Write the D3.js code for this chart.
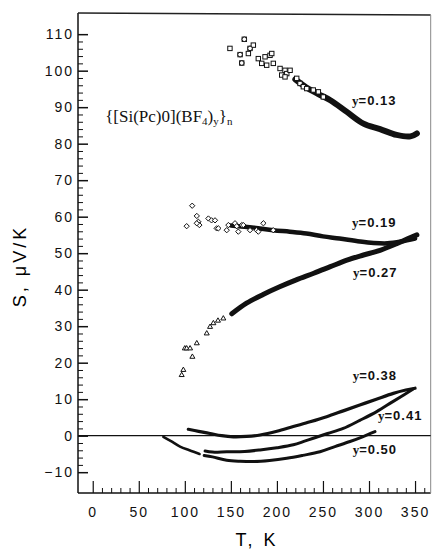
<!DOCTYPE html>
<html>
<head>
<meta charset="utf-8">
<script src="https://cdn.jsdelivr.net/npm/d3@7"></script>
<style>
  body { margin: 0; background: #fff; }
  svg { display: block; }
  .tick line { stroke: #111; }
  .tick text { font-family: "Liberation Sans", Arial, sans-serif; font-size: 14px; letter-spacing: 2px; fill: #111; }
</style>
</head>
<body>
<svg width="433" height="552"></svg>
<script>
// ---- data (T in K, S in uV/K) ----

// y=0.13 : open squares / circles at low T
var y13Open = [[149,106.1],[164.6,108.6],[160,104.4],[161.8,102.1],[169,104.7],[170.8,106.1],
  [174.4,107],[179.8,103.3],[183.5,102],[188.9,101.5],[187.1,103.8],[192.5,104.2],[194.4,104.7],
  [196.1,102],[203.4,100.6],[208.8,100.1],[205.2,98.8],[210.7,99.2],[214.3,100.1],[208.8,98.3],
  [221.5,97.9],[225.1,96.5],[228.7,95.6],[232.4,95.1],[239.5,94.7],[245,94.2],[250.4,92.8]];
var y13Circles = [[164.6,108.6],[160,104.4],[161.8,102.1],[170.8,106.1]];
// y=0.13 : dense part (overlapping points)
var y13Dense = [[220,97.6],[232,95.4],[245,93.6],[258,91.9],[276,88.7],[294,85.5],[312,84],
  [330,82.4],[345,82],[352,82.8]];

// y=0.19 : open diamonds
var y19Open = [[108,63],[102,57.4],[113,60.2],[114.7,58.6],[115.8,57.7],[113,58.2],[125.6,59.5],
  [129,59],[132.8,59],[134.6,56.8],[136.4,56.8],[145.5,56.3],[147.3,57.7],[154.5,58.2],[156.4,57.4],
  [158.1,55.9],[161.8,57.7],[163.5,57.7],[170.8,56.3],[178,56.3],[179.8,55.9],[185.3,58.2],[196,56.3]];
var y19Dense = [[150,57.6],[175,57],[196,56.3],[214,55.9],[232,55.4],[250,54.6],[268,54],
  [290,53.2],[305,52.8],[320,52.7],[335,53.2],[350,54]];

// y=0.27 : open triangles
var y27Open = [[96.6,16.6],[98.4,18],[100,23.9],[102,23.9],[105.7,23.9],[108.2,21.6],[113,25.3],
  [123.8,28],[127.4,29.8],[131,30.8],[136,31.5],[141.8,32.1]];
var y27Dense = [[151,33.4],[167,36.3],[185,38.7],[203,40.8],[221,42.7],[240,44.5],[258,46.3],
  [276,48.1],[294,49.5],[312,50.8],[330,52.6],[345,54.3],[352,55]];

// y=0.38, 0.41, 0.50 : dense lines
var y38Line = [[103.8,1.75],[115,1.2],[127.4,0.6],[140,0],[152.7,-0.3],[167,-0.2],[181.7,0.2],
  [200,1.2],[217.8,2.5],[236,3.8],[254,5.2],[272,6.8],[290,8.4],[308,10],[326.4,11.6],[340,12.5],[350,13]];
var y41Line = [[122,-4.2],[130,-4.5],[145.5,-4.4],[165,-4.3],[181.7,-3.9],[200,-3.3],[217.8,-2.5],
  [230,-1.5],[239.5,-0.7],[255,0.6],[272,2],[290,4.2],[308.4,6.6],[325,9.2],[337.3,11.1],[348,12.8]];
var y50LineA = [[76.7,-0.3],[85,-1.5],[94.8,-3],[105,-4],[116,-5]];
var y50LineB = [[121,-5.4],[130,-5.8],[145.5,-6.7],[160,-7],[174.4,-7.1],[192,-6.8],[210.7,-6.2],
  [228,-5.4],[246.8,-4.4],[263,-3],[279.4,-1.6],[293,-0.3],[306.5,1.1]];

// labels
var seriesNames = ["0.13", "0.19", "0.27", "0.38", "0.41", "0.50"];
var seriesLabelAt = [[281.6,90.6],[281.6,57.2],[282.7,43.5],[282.3,15.3],[309.8,4.3],[282.3,-5.0]];
var xMajor = [0, 50, 100, 150, 200, 250, 300, 350];
var yMajor = [-10, 0, 10, 20, 30, 40, 50, 60, 70, 80, 90, 100, 110];

// ---- layout ----
var svg = d3.select("svg");
var x = d3.scaleLinear().domain([-16, 367]).range([78, 430.7]);
var y = d3.scaleLinear().domain([-15.7, 115.8]).range([493, 13]);

// frame
svg.append("line").attr("x1", 78).attr("y1", 13).attr("x2", 78).attr("y2", 493)
   .attr("stroke", "#111").attr("stroke-width", 1.5);
svg.append("line").attr("x1", 78).attr("y1", 493).attr("x2", 430.7).attr("y2", 493)
   .attr("stroke", "#111").attr("stroke-width", 1.5);
svg.append("line").attr("x1", 78).attr("y1", 13).attr("x2", 430.7).attr("y2", 15)
   .attr("stroke", "#222").attr("stroke-width", 1.3);
svg.append("line").attr("x1", 430.7).attr("y1", 15).attr("x2", 430.7).attr("y2", 493)
   .attr("stroke", "#888").attr("stroke-width", 1);

// zero line
svg.append("line").attr("x1", x(-16)).attr("x2", x(367)).attr("y1", y(0)).attr("y2", y(0))
   .attr("stroke", "#111").attr("stroke-width", 1.2);

// minor ticks
var xMinor = d3.range(10, 361, 10).filter(function(d) { return d % 50 != 0; });
var yMinor = d3.range(-10, 111, 2).filter(function(d) { return d % 10 != 0; });

svg.append("g").attr("transform", "translate(0,493)")
   .call(d3.axisBottom(x).tickValues(xMinor).tickSize(-5).tickFormat(""))
   .call(function(g) { g.select(".domain").remove(); });
svg.append("g").attr("transform", "translate(78,0)")
   .call(d3.axisLeft(y).tickValues(yMinor).tickSize(-5).tickFormat(""))
   .call(function(g) { g.select(".domain").remove(); });

// major ticks + labels
svg.append("g").attr("transform", "translate(0,493)")
   .call(d3.axisBottom(x).tickValues(xMajor).tickSize(-12).tickPadding(14))
   .call(function(g) { g.select(".domain").remove(); g.selectAll(".tick line").attr("stroke-width", 1.2); });
svg.append("g").attr("transform", "translate(78,0)")
   .call(d3.axisLeft(y).tickValues(yMajor).tickSize(-10).tickPadding(4)
         .tickFormat(function(d) { return d < 0 ? "\u2212" + (-d) : d; }))
   .call(function(g) { g.select(".domain").remove(); g.selectAll(".tick line").attr("stroke-width", 1.5); });

// axis titles
svg.append("text")
   .attr("transform", "translate(26,266) rotate(-90)")
   .attr("text-anchor", "middle")
   .style("font-family", "Liberation Sans, Arial, sans-serif").style("font-size", "18px")
   .style("letter-spacing", "3px")
   .text("S, \u03BCV/K");
svg.append("text")
   .attr("x", 257).attr("y", 546)
   .attr("text-anchor", "middle")
   .style("font-family", "Liberation Sans, Arial, sans-serif").style("font-size", "18px")
   .style("letter-spacing", "3px")
   .text("T, K");

// dense bands drawn as thick lines
var line = d3.line().x(function(d) { return x(d[0]); }).y(function(d) { return y(d[1]); })
   .curve(d3.curveCatmullRom);
function band(data, w) {
  svg.append("path").datum(data).attr("d", line).attr("fill", "none")
     .attr("stroke", "#111").attr("stroke-width", w)
     .attr("stroke-linecap", "round").attr("stroke-linejoin", "round");
}
band(y13Dense, 6);
band(y19Dense, 4.5);
band(y27Dense, 5);
band(y38Line, 3.2);
band(y41Line, 3);
band(y50LineA, 2.6);
band(y50LineB, 3);

// open markers
svg.append("g").selectAll("rect").data(y13Open.filter(function(d) { return y13Circles.indexOf(d) < 0; }))
   .enter().append("rect")
   .attr("x", function(d) { return x(d[0]) - 2.2; }).attr("y", function(d) { return y(d[1]) - 2.2; })
   .attr("width", 4.4).attr("height", 4.4)
   .attr("fill", "#fff").attr("stroke", "#111").attr("stroke-width", 1);
svg.append("g").selectAll("circle").data(y13Circles)
   .enter().append("circle")
   .attr("cx", function(d) { return x(d[0]); }).attr("cy", function(d) { return y(d[1]); })
   .attr("r", 2.3).attr("fill", "#fff").attr("stroke", "#111").attr("stroke-width", 1);

var diamond = d3.symbol().type(d3.symbolDiamond2).size(18);
svg.append("g").selectAll("path").data(y19Open)
   .enter().append("path")
   .attr("d", diamond)
   .attr("transform", function(d) { return "translate(" + x(d[0]) + "," + y(d[1]) + ")"; })
   .attr("fill", "#fff").attr("stroke", "#111").attr("stroke-width", 1);

var tri = d3.symbol().type(d3.symbolTriangle2).size(18);
svg.append("g").selectAll("path").data(y27Open)
   .enter().append("path")
   .attr("d", tri)
   .attr("transform", function(d) { return "translate(" + x(d[0]) + "," + y(d[1]) + ")"; })
   .attr("fill", "#fff").attr("stroke", "#111").attr("stroke-width", 1);

// series labels
seriesNames.forEach(function(name, i) {
  var t = svg.append("text")
     .attr("x", x(seriesLabelAt[i][0])).attr("y", y(seriesLabelAt[i][1]))
     .style("font-size", "13px").style("font-weight", "bold").style("fill", "#111");
  t.append("tspan").style("font-family", "Liberation Serif, Times New Roman, serif").text("y");
  t.append("tspan").style("font-family", "Liberation Sans, Arial, sans-serif")
   .style("letter-spacing", "1px").text("=" + name);
});

// compound formula
var f = svg.append("text").attr("x", x(13.5)).attr("y", y(85.9))
   .style("font-family", "Liberation Serif, Times New Roman, serif").style("font-size", "17px")
   .style("fill", "#111");
f.append("tspan").text("{[Si(Pc)0](BF");
f.append("tspan").attr("dy", 3).style("font-size", "11px").text("4");
f.append("tspan").attr("dy", -3).text(")");
f.append("tspan").attr("dy", 3).style("font-size", "11px").text("y");
f.append("tspan").attr("dy", -3).text("}");
f.append("tspan").attr("dy", 3).style("font-size", "11px").text("n");
</script>
</body>
</html>
